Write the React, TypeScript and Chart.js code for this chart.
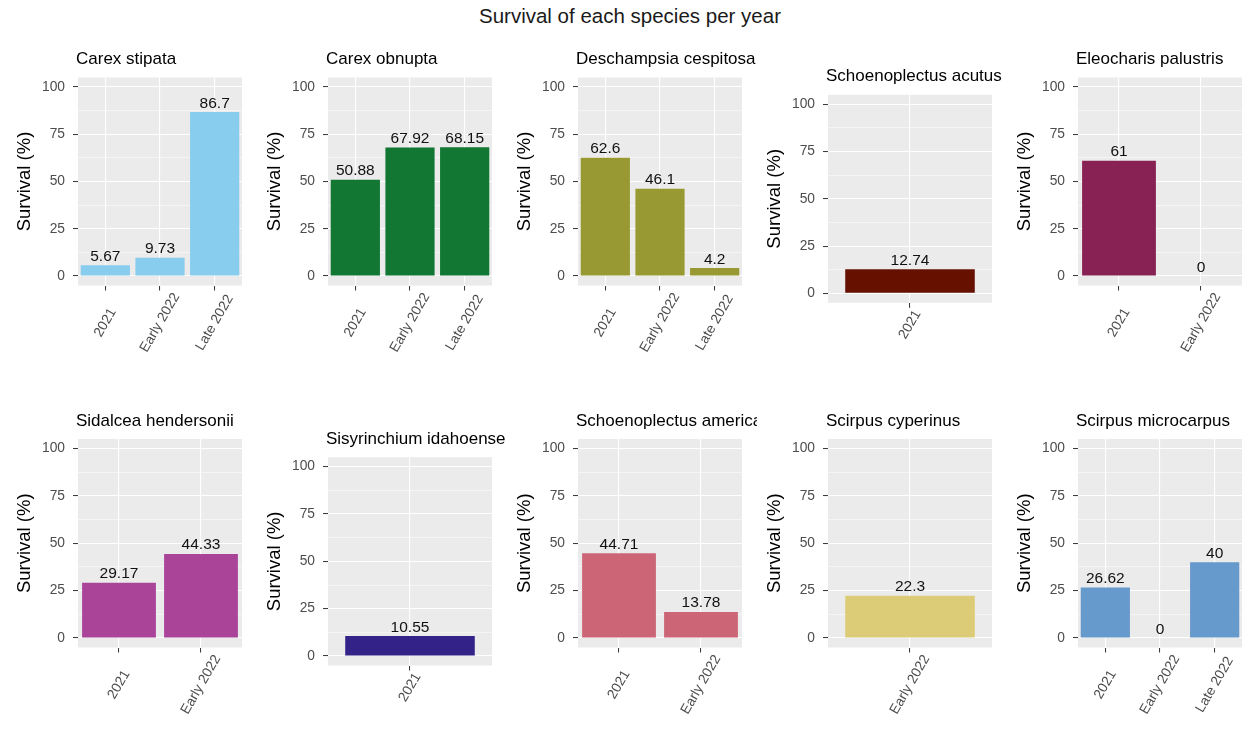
import React, { useEffect, useRef } from "react";
import { Chart, registerables } from "chart.js";

Chart.register(...registerables);

const FONT = "'Liberation Sans', Arial, Helvetica, sans-serif";

// ---------------- data ----------------
const mainTitle = "Survival of each species per year";
const yAxisTitle = "Survival (%)";

const speciesNames = [
  "Carex stipata",
  "Carex obnupta",
  "Deschampsia cespitosa",
  "Schoenoplectus acutus",
  "Eleocharis palustris",
  "Sidalcea hendersonii",
  "Sisyrinchium idahoense",
  "Schoenoplectus americanus",
  "Scirpus cyperinus",
  "Scirpus microcarpus",
];

const panelYears: string[][] = [
  ["2021", "Early 2022", "Late 2022"],
  ["2021", "Early 2022", "Late 2022"],
  ["2021", "Early 2022", "Late 2022"],
  ["2021"],
  ["2021", "Early 2022"],
  ["2021", "Early 2022"],
  ["2021"],
  ["2021", "Early 2022"],
  ["Early 2022"],
  ["2021", "Early 2022", "Late 2022"],
];

const panelSurvival: number[][] = [
  [5.67, 9.73, 86.7],
  [50.88, 67.92, 68.15],
  [62.6, 46.1, 4.2],
  [12.74],
  [61, 0],
  [29.17, 44.33],
  [10.55],
  [44.71, 13.78],
  [22.3],
  [26.62, 0, 40],
];

const panelColors = [
  "#88CCEE",
  "#117733",
  "#999933",
  "#661100",
  "#882255",
  "#AA4499",
  "#332288",
  "#CC6677",
  "#DDCC77",
  "#6699CC",
];

const yMajorTicks = [0, 25, 50, 75, 100];
const yMinorTicks = [12.5, 37.5, 62.5, 87.5];

// ---------------- layout (not data) ----------------
const PLOT_LEFT = 78;
const PLOT_RIGHT = 242;
const ROW_TOP = [30, 390];
const ROW_H = [360, 339];
const plotTops = [77.5, 77.5, 77.5, 94.8, 77.5, 439, 457.2, 439, 439, 439];
const plotBottoms = [285.5, 285.5, 285.5, 302.8, 285.5, 647.5, 665.5, 647.5, 647.5, 647.5];

const bgPlugin = {
  id: "panelBg",
  beforeDraw(chart: any) {
    const { ctx, chartArea } = chart;
    ctx.save();
    ctx.fillStyle = "#EBEBEB";
    ctx.fillRect(chartArea.left, chartArea.top, chartArea.right - chartArea.left, chartArea.bottom - chartArea.top);
    ctx.restore();
  },
};

const valueLabelPlugin = {
  id: "valueLabels",
  afterDatasetsDraw(chart: any) {
    const { ctx } = chart;
    const meta = chart.getDatasetMeta(0);
    const values = chart.data.datasets[0].data as number[];
    ctx.save();
    ctx.font = `15.5px ${FONT}`;
    ctx.fillStyle = "#111111";
    ctx.textAlign = "center";
    ctx.textBaseline = "alphabetic";
    meta.data.forEach((bar: any, i: number) => {
      ctx.fillText(String(values[i]), bar.x, bar.y - 4.5);
    });
    ctx.restore();
  },
};

const xLabelPlugin = {
  id: "xLabels",
  afterDraw(chart: any) {
    const { ctx, chartArea } = chart;
    const xs = chart.scales.x;
    const labels = chart.data.labels as string[];
    const size = 13.8;
    const ang = (60 * Math.PI) / 180;
    ctx.save();
    ctx.font = `${size}px ${FONT}`;
    ctx.fillStyle = "#4D4D4D";
    const gh = size * 0.75;
    const ext = labels.map((l) => ctx.measureText(l).width * Math.sin(ang) + gh * Math.cos(ang));
    const cy = chartArea.bottom + 6 + Math.max(...ext) / 2;
    labels.forEach((l, i) => {
      const x = xs.getPixelForTick(i);
      ctx.save();
      ctx.translate(x, cy);
      ctx.rotate(-ang);
      ctx.textAlign = "center";
      ctx.textBaseline = "middle";
      ctx.fillText(l, 0, 0);
      ctx.restore();
    });
    ctx.restore();
  },
};

const panelTitlePlugin = {
  id: "panelTitle",
  afterDraw(chart: any, _args: any, opts: any) {
    const { ctx, chartArea } = chart;
    ctx.save();
    ctx.font = `17px ${FONT}`;
    ctx.fillStyle = "#000000";
    ctx.textAlign = "left";
    ctx.textBaseline = "alphabetic";
    ctx.fillText(opts.text, chartArea.left - 2, chartArea.top - 13.5);
    ctx.restore();
  },
};

function Panel({ index }: { index: number }) {
  const ref = useRef<HTMLCanvasElement | null>(null);
  const col = index % 5;
  const row = Math.floor(index / 5);
  const canvasW = col === 4 ? 250 : 257;
  const canvasH = ROW_H[row];
  const top = ROW_TOP[row];

  useEffect(() => {
    if (!ref.current) return;
    const years = panelYears[index];
    const values = panelSurvival[index];
    const n = years.length;
    const chartTop = plotTops[index];
    const chartBottom = plotBottoms[index];
    const isMajor = (v: number) => yMajorTicks.includes(v);

    const chart = new Chart(ref.current, {
      type: "bar",
      data: {
        labels: years,
        datasets: [
          {
            data: values,
            backgroundColor: panelColors[index],
            borderWidth: 0,
            categoryPercentage: n === 1 ? 0.79 : 0.9,
            barPercentage: 1,
          },
        ],
      },
      options: {
        responsive: false,
        maintainAspectRatio: false,
        animation: false,
        devicePixelRatio: 1,
        layout: {
          padding: { top: chartTop - top, left: 0, right: canvasW - PLOT_RIGHT, bottom: 0 },
        },
        plugins: {
          legend: { display: false },
          tooltip: { enabled: false },
          title: { display: false },
          panelTitle: { text: speciesNames[index] },
        } as any,
        scales: {
          x: {
            type: "category",
            offset: true,
            border: { display: false },
            grid: {
              offset: false,
              color: "#FFFFFF",
              lineWidth: 1.1,
              drawTicks: true,
              tickLength: 5,
              tickColor: "#333333",
              tickWidth: 1,
            },
            ticks: { display: false },
            afterFit: (s: any) => {
              s.height = top + canvasH - chartBottom;
            },
          },
          y: {
            type: "linear",
            min: -5,
            max: 105,
            border: { display: false },
            afterBuildTicks: (s: any) => {
              s.ticks = [...yMajorTicks, ...yMinorTicks].sort((a, b) => a - b).map((v) => ({ value: v }));
            },
            grid: {
              color: "#FFFFFF",
              lineWidth: (c: any) => (c.tick && isMajor(c.tick.value) ? 1.1 : 0.5),
              drawTicks: true,
              tickLength: 5,
              tickWidth: 1,
              tickColor: (c: any) => (c.tick && isMajor(c.tick.value) ? "#333333" : "rgba(0,0,0,0)"),
            },
            ticks: {
              autoSkip: false,
              padding: 8,
              color: "#4D4D4D",
              font: { family: FONT, size: 13.8 },
              callback: (v: any) => (isMajor(Number(v)) ? String(v) : ""),
            },
            title: {
              display: true,
              text: yAxisTitle,
              color: "#000000",
              font: { family: FONT, size: 18.5 },
              padding: { top: 14, bottom: 0 },
            },
            afterFit: (s: any) => {
              s.width = PLOT_LEFT;
            },
          },
        },
      },
      plugins: [bgPlugin, valueLabelPlugin, xLabelPlugin, panelTitlePlugin],
    });
    return () => chart.destroy();
  }, [index]);

  return (
    <canvas
      ref={ref}
      width={canvasW}
      height={canvasH}
      style={{
        position: "absolute",
        left: col * 250,
        top,
        width: canvasW,
        height: canvasH,
      }}
    />
  );
}

export default function App() {
  return (
    <div
      style={{
        position: "absolute",
        left: 0,
        top: 0,
        width: 1250,
        height: 729,
        background: "#FFFFFF",
        overflow: "hidden",
        fontFamily: FONT,
      }}
    >
      <div
        style={{
          position: "absolute",
          left: 0,
          top: 3.6,
          width: 1260,
          textAlign: "center",
          fontSize: 20.5,
          lineHeight: "24px",
          color: "#1A1A1A",
          whiteSpace: "nowrap",
        }}
      >
        {mainTitle}
      </div>
      {speciesNames.map((_, i) => (
        <Panel key={i} index={i} />
      ))}
    </div>
  );
}
